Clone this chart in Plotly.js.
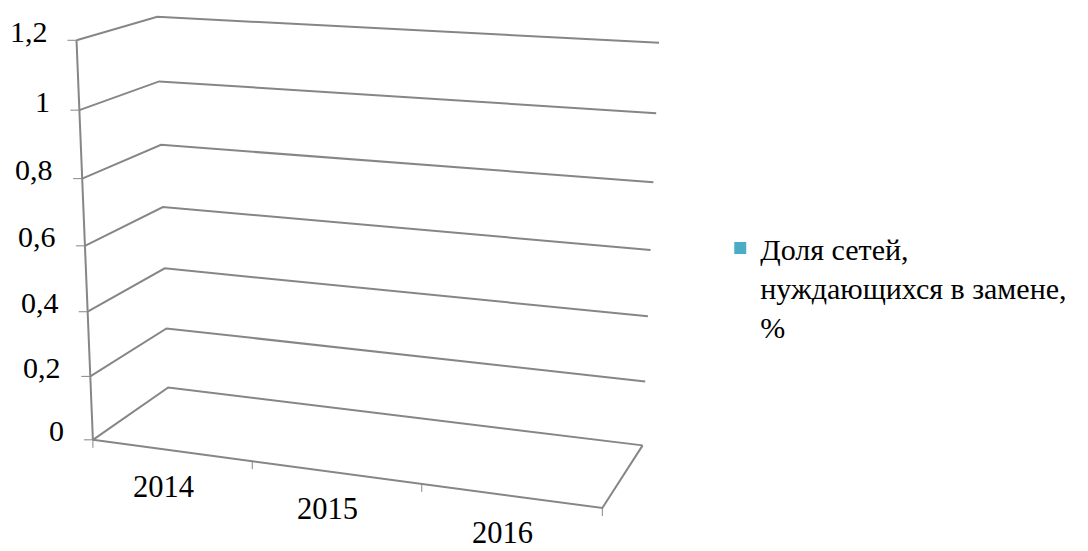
<!DOCTYPE html>
<html><head><meta charset="utf-8">
<script src="https://cdn.plot.ly/plotly-3.0.1.min.js"></script>
<style>html,body{margin:0;padding:0;background:#fff;} #chart{width:1088px;height:551px;}</style>
</head><body><div id="chart"></div>
<script>
// ---------- data ----------
const categories = ['2014', '2015', '2016'];
const values = [0, 0, 0];
const seriesName = 'Доля сетей,<br>нуждающихся в замене,<br>%';
const valueTicks = [0, 0.2, 0.4, 0.6, 0.8, 1, 1.2];

// ---------- layout / geometry (3D box frame in screen pixels) ----------
const W = 1088, H = 551;
const valueMax = 1.2;
const catMin = -0.5, catMax = categories.length - 0.5;
// box corners in normalised box coords (a: categories, b: depth, c: value) -> screen px
const frame = [
  [0, 0, 0, 92.7, 440], [0, 0, 1, 76.7, 40.7], [0, 1, 0, 168.3, 387.7], [0, 1, 1, 156.7, 16.7],
  [1, 1, 0, 642.3, 445], [1, 1, 1, 659, 42.7], [1, 0, 0, 602.3, 508.3],
  [0, 0, 0.5, 85, 245], [0, 1, 0.5, 163.3, 207.3], [1, 1, 0.5, 651, 250]
];
const gray = '#868686';
const font = 'Liberation Serif, Times New Roman, serif';

// fit a perspective camera matrix (DLT, least squares)
function fitCamera(pairs) {
  const S = 1000, n = 11, M = [...Array(n)].map(() => Array(n + 1).fill(0));
  const rows = [];
  pairs.forEach(([X, Y, Z, x, y]) => {
    x /= S; y /= S;
    rows.push([[X, Y, Z, 1, 0, 0, 0, 0, -x * X, -x * Y, -x * Z], x]);
    rows.push([[0, 0, 0, 0, X, Y, Z, 1, -y * X, -y * Y, -y * Z], y]);
  });
  rows.forEach(([a, b]) => { for (let i = 0; i < n; i++) { for (let j = 0; j < n; j++) M[i][j] += a[i] * a[j]; M[i][n] += a[i] * b; } });
  for (let c = 0; c < n; c++) {
    let p = c; for (let r = c + 1; r < n; r++) if (Math.abs(M[r][c]) > Math.abs(M[p][c])) p = r;
    [M[c], M[p]] = [M[p], M[c]];
    for (let r = 0; r < n; r++) if (r !== c) { const f = M[r][c] / M[c][c]; for (let k = c; k <= n; k++) M[r][k] -= f * M[c][k]; }
  }
  const P = M.map((r, i) => r[n] / r[i]);
  return (X, Y, Z) => {
    const w = P[8] * X + P[9] * Y + P[10] * Z + 1;
    return [S * (P[0] * X + P[1] * Y + P[2] * Z + P[3]) / w, S * (P[4] * X + P[5] * Y + P[6] * Z + P[7]) / w];
  };
}
const cam = fitCamera(frame);
// data -> screen: category position u, depth d (0 front .. 1 back), value v
const proj = (u, d, v) => cam((u - catMin) / (catMax - catMin), d, v / valueMax);

// ---------- marks ----------
const gx = [], gy = [];
const seg = pts => { pts.forEach(p => { gx.push(p[0]); gy.push(p[1]); }); gx.push(null); gy.push(null); };
// value gridlines on side wall + back wall
valueTicks.forEach(v => seg([proj(catMin, 0, v), proj(catMin, 1, v), proj(catMax, 1, v)]));
// value axis line, category axis line, floor right edge
seg([proj(catMin, 0, 0), proj(catMin, 0, valueMax)]);
seg([proj(catMin, 0, 0), proj(catMax, 0, 0), proj(catMax, 1, 0)]);

const tx = [], ty = [];
const tseg = (a, b) => { tx.push(a[0], b[0], null); ty.push(a[1], b[1], null); };
valueTicks.forEach(v => { const p = proj(catMin, 0, v); tseg([p[0] - 9, p[1]], p); });
for (let u = catMin; u <= catMax + 1e-9; u += 1) { const p = proj(u, 0, 0); tseg(p, [p[0], p[1] + 8]); }

const annotations = [];
valueTicks.forEach(v => {
  const p = proj(catMin, 0, v);
  annotations.push({ x: p[0], y: p[1], xref: 'x', yref: 'y', text: String(v).replace('.', ','), showarrow: false,
    xanchor: 'right', yanchor: 'middle', xshift: -27, yshift: 9, font: { family: font, size: 30, color: '#000' } });
});
categories.forEach((c, i) => {
  const p = proj(i, 0, 0);
  annotations.push({ x: p[0], y: p[1], xref: 'x', yref: 'y', text: c, showarrow: false,
    xanchor: 'center', yanchor: 'middle', xshift: -8, yshift: -37, font: { family: font, size: 30.5, color: '#000' } });
});

const traces = [
  { type: 'scatter', mode: 'lines', x: gx, y: gy, line: { color: gray, width: 2 }, showlegend: false, hoverinfo: 'skip', connectgaps: false },
  { type: 'scatter', mode: 'lines', x: tx, y: ty, line: { color: gray, width: 1 }, showlegend: false, hoverinfo: 'skip', connectgaps: false },
  { type: 'bar', x: categories, y: values, xaxis: 'x2', yaxis: 'y2', name: seriesName,
    marker: { color: '#4BACC6', line: { width: 0 } }, showlegend: true, hoverinfo: 'skip' }
];

const layout = {
  width: W, height: H, paper_bgcolor: '#fff', plot_bgcolor: 'rgba(0,0,0,0)',
  margin: { l: 0, r: 0, t: 0, b: 0 },
  font: { family: font, size: 30, color: '#000' },
  xaxis: { range: [0, W], visible: false, fixedrange: true },
  yaxis: { range: [H, 0], visible: false, fixedrange: true },
  xaxis2: { domain: [92.7 / W, 602.3 / W], range: [catMin, catMax], visible: false, anchor: 'y2' },
  yaxis2: { domain: [0.2, 0.9], range: [0, valueMax], visible: false, anchor: 'x2' },
  showlegend: true,
  legend: { x: 0.662, y: 0.597, xanchor: 'left', yanchor: 'top', valign: 'top', borderwidth: 0,
    font: { family: font, size: 30, color: '#000' }, bgcolor: 'rgba(0,0,0,0)' },
  annotations
};
Plotly.newPlot('chart', traces, layout, { displayModeBar: false, staticPlot: true });
</script></body></html>
